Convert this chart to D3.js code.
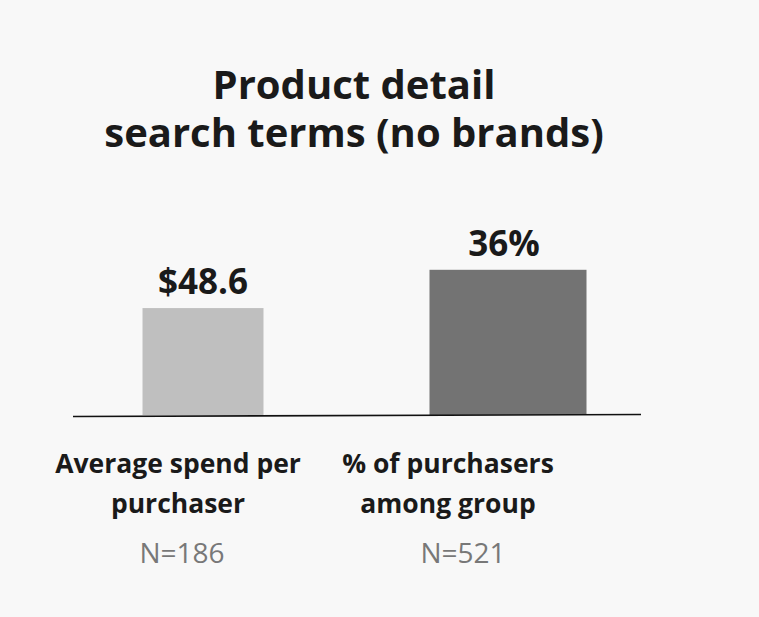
<html>
<head>
<script src="https://d3js.org/d3.v7.min.js"></script>
<style>
body{margin:0;background:#f8f8f8}
text{font-family:"Open Sans",sans-serif}
</style>
</head>
<body>
<svg width=759 height=617></svg>
<script>
// chart data
const titleLines=["Product detail","search terms (no brands)"]
const categories=["avg","pct"]
const categoryLabels=[["Average spend per","purchaser"],["% of purchasers","among group"]]
const values=[48.6,0.36]
const valueLabels=["$48.6","36%"]
const nLabels=["N=186","N=521"]

const svg=d3.select("svg")
const width=+svg.attr("width")
const height=+svg.attr("height")
svg.append("rect").attr("width",width).attr("height",height).attr("fill","#f8f8f8")

const baseY=415
const barColors=["#bfbfbf","#737373"]
const barWidths=[121,157]
const labelShift=[-25,-60]
const nShift=[-21,-45]
const valShift=[0,-4]

const xs=d3.scalePoint().domain(categories).range([203,508])
// each bar has its own value scale
const ys=[
  d3.scaleLinear().domain([0,110]).range([baseY,baseY-242]),
  d3.scaleLinear().domain([0,0.6]).range([baseY,baseY-242])
]

svg.append("g").selectAll("text")
  .data(titleLines).enter().append("text")
  .attr("x",354)
  .attr("y",(d,i)=>99+i*48)
  .attr("text-anchor","middle")
  .attr("font-size",40)
  .attr("font-weight",700)
  .attr("fill","#1a1a1a")
  .text(d=>d)

svg.append("g").selectAll("rect")
  .data(values).enter().append("rect")
  .attr("x",(d,i)=>xs(categories[i])-barWidths[i]/2)
  .attr("width",(d,i)=>barWidths[i])
  .attr("y",(d,i)=>ys[i](d))
  .attr("height",(d,i)=>baseY-ys[i](d))
  .attr("fill",(d,i)=>barColors[i])

svg.append("line")
  .attr("x1",73).attr("y1",416.5)
  .attr("x2",641).attr("y2",414.5)
  .attr("stroke","#111").attr("stroke-width",1.6)

svg.append("g").selectAll("text")
  .data(valueLabels).enter().append("text")
  .attr("x",(d,i)=>xs(categories[i])+valShift[i])
  .attr("y",(d,i)=>ys[i](values[i])-14)
  .attr("text-anchor","middle")
  .attr("font-size",35)
  .attr("font-weight",700)
  .attr("fill","#1a1a1a")
  .text(d=>d)

const cat=svg.append("g").selectAll("text")
  .data(categoryLabels).enter().append("text")
  .attr("text-anchor","middle")
  .attr("font-size",26.5)
  .attr("font-weight",700)
  .attr("fill","#1a1a1a")
cat.selectAll("tspan")
  .data((d,i)=>d.map(s=>({s:s,i:i}))).enter().append("tspan")
  .attr("x",d=>xs(categories[d.i])+labelShift[d.i])
  .attr("y",(d,j)=>473+j*40)
  .text(d=>d.s)

svg.append("g").selectAll("text")
  .data(nLabels).enter().append("text")
  .attr("x",(d,i)=>xs(categories[i])+nShift[i])
  .attr("y",563)
  .attr("text-anchor","middle")
  .attr("font-size",28)
  .attr("fill","#787878")
  .text(d=>d)
</script>
</body>
</html>
